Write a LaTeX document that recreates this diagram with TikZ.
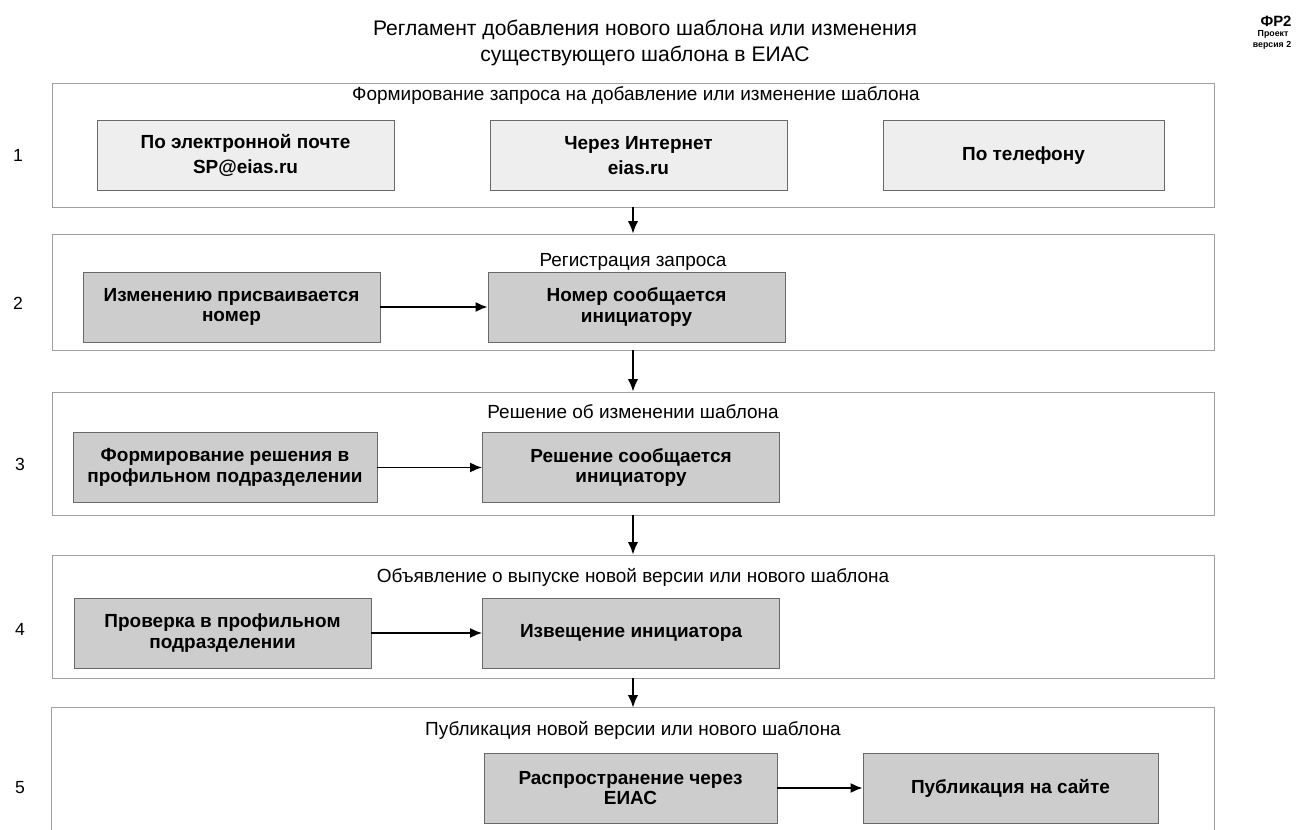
\documentclass[tikz,border=0pt]{standalone}
\usepackage{fontspec}
\setmainfont{Liberation Sans}
\usetikzlibrary{arrows.meta, positioning}
\definecolor{framegray}{RGB}{160,160,160}
\definecolor{boxedge}{RGB}{105,105,105}
\definecolor{stagefill}{RGB}{205,205,205}
\definecolor{inputfill}{RGB}{238,238,238}

\begin{document}
\begin{tikzpicture}[x=0.02cm, y=-0.02cm,
  panel/.style={draw=framegray, line width=0.45pt, minimum width=23.24cm, inner sep=0pt},
  header/.style={font=\fontsize{10.8}{12}\selectfont},
  stagebox/.style={draw=boxedge, line width=0.5pt, fill=stagefill, minimum width=5.94cm,
    minimum height=1.4cm, align=center, inner sep=2pt, font=\fontsize{10.8}{11.6}\selectfont\bfseries},
  inputbox/.style={stagebox, fill=inputfill, font=\fontsize{10.8}{14.2}\selectfont\bfseries},
  rownum/.style={font=\fontsize{10}{12}\selectfont},
  vflow/.style={-{Latex[length=2.5mm, width=2.1mm]}, line width=1.1pt},
  hflow/.style={-{Latex[length=2.4mm, width=2mm]}, line width=1pt}]
\useasboundingbox (0,0) rectangle (1305,830);

% Title and document code
\node[align=center, font=\fontsize{12}{14.7}\selectfont] (heading) at (645,43)
  {Регламент добавления нового шаблона или изменения\\существующего шаблона в ЕИАС};
\node[font=\fontsize{8.5}{9}\selectfont\bfseries] (frcode) at (1276,21) {ФР2};
\node[font=\fontsize{5}{6}\selectfont\bfseries] (frdraft) at (1273,34) {Проект};
\node[font=\fontsize{5}{6}\selectfont\bfseries] (frversion) at (1272,45) {версия 2};

% Stage panels
\node[panel, minimum height=2.48cm] (p1) at (633,145) {};
\node[panel, minimum height=2.32cm] (p2) at (633,292) {};
\node[panel, minimum height=2.46cm] (p3) at (633,453.5) {};
\node[panel, minimum height=2.46cm] (p4) at (633,616.5) {};
\node[panel, draw=none, minimum height=2.44cm] (p5) at (633,769) {};
\draw[framegray, line width=0.45pt] (p5.south west) |- (p5.north east) -- (p5.south east);

% Panel headers
\node[header] (h1) at (636,96) {Формирование запроса на добавление или изменение шаблона};
\node[header] (h2) at (633,262) {Регистрация запроса};
\node[header] (h3) at (633,412) {Решение об изменении шаблона};
\node[header] (h4) at (633,577) {Объявление о выпуске новой версии или нового шаблона};
\node[header] (h5) at (633,730) {Публикация новой версии или нового шаблона};

% Row numbers
\node[rownum] (n1) at (18,155) {1};
\node[rownum] (n2) at (18,303) {2};
\node[rownum] (n3) at (20,464) {3};
\node[rownum] (n4) at (20,629) {4};
\node[rownum] (n5) at (20,788) {5};

% Stage 1
\node[inputbox] (mail) at (245.5,155.5) {По электронной почте\\SP@eias.ru};
\node[inputbox] (web) at (638.5,155.5) {Через Интернет\\eias.ru};
\node[inputbox, minimum width=5.62cm] (phone) at (1023.5,155.5) {По телефону};

% Stage 2
\node[stagebox] (assign) at (231.5,307) {Изменению присваивается\\номер};
\node[stagebox] (numtell) at (636.5,307) {Номер сообщается\\инициатору};
\draw[hflow] (assign) -- (numtell);

% Stage 3
\node[stagebox, minimum width=6.08cm] (decide) at (225,467.5) {Формирование решения в\\профильном подразделении};
\node[stagebox] (dectell) at (631,467.5) {Решение сообщается\\инициатору};
\draw[hflow] (decide) -- (dectell);

% Stage 4
\node[stagebox] (check) at (222.5,633) {Проверка в профильном\\подразделении};
\node[stagebox] (notice) at (631,633) {Извещение инициатора};
\draw[hflow] (check) -- (notice);

% Stage 5
\node[stagebox, minimum width=5.86cm] (spread) at (630.5,788) {Распространение через\\ЕИАС};
\node[stagebox, minimum width=5.9cm] (site) at (1010.5,788) {Публикация на сайте};
\draw[hflow] (spread) -- (site);

% Flow between stages
\draw[vflow] (p1.south) -- (p2.north);
\draw[vflow] (p2.south) -- (p3.north);
\draw[vflow] (p3.south) -- (p4.north);
\draw[vflow] (p4.south) -- (p5.north);
\end{tikzpicture}
\end{document}
